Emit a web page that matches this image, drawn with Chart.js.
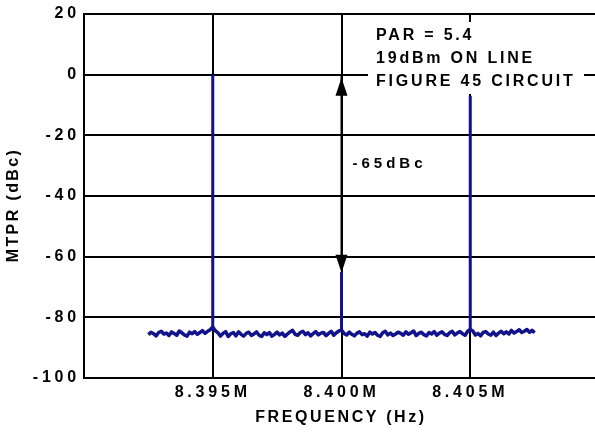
<!DOCTYPE html>
<html>
<head>
<meta charset="utf-8">
<script src="https://cdn.jsdelivr.net/npm/chart.js@4.4.0/dist/chart.umd.min.js"></script>
<style>
  html, body { margin: 0; padding: 0; background: #fff; overflow: hidden; }
  #wrap { width: 604px; height: 432px; }
</style>
</head>
<body>
<div id="wrap"><canvas id="mtpr" width="604" height="432"></canvas></div>
<script>
// frequency axis (Hz)
var freqMin = 8390000;
var freqMax = 8410000;
var freqStep = 5000;
var levelTicks = [20, 0, -20, -40, -60, -80, -100];

// noise floor trace, one sample every 100 Hz starting at 8.3925M
var noiseStart = 8392500;
var noiseStep = 100;
var noiseLevels = [
  -85.7,-84.9,-85.4,-86.1,-85.0,-84.6,-85.5,-85.2,-86.0,-84.8,-85.3,-85.9,-84.5,-85.1,-85.8,-86.2,-84.9,-85.4,-84.7,-85.6,
  -85.0,-84.4,-85.3,-84.6,-84.1,-83.2,-84.4,-85.1,-86.2,-85.3,-84.7,-86.3,-85.4,-85.0,-86.1,-84.8,-85.6,-86.2,-85.3,-84.9,
  -86.0,-85.5,-84.8,-85.9,-86.3,-85.1,-85.7,-85.0,-86.2,-85.6,-84.9,-85.8,-85.2,-86.3,-85.5,-84.8,-84.3,-85.6,-85.9,-85.0,
  -84.6,-85.7,-85.1,-86.1,-85.4,-84.7,-85.8,-85.2,-85.0,-86.0,-85.3,-84.6,-85.9,-85.1,-84.5,-84.2,-85.3,-85.8,-84.9,-85.6,
  -86.1,-85.2,-84.8,-85.7,-85.4,-86.2,-84.9,-85.5,-85.0,-85.9,-86.3,-85.1,-84.6,-85.8,-85.2,-86.0,-85.5,-84.9,-85.3,-85.9,
  -84.8,-85.6,-85.1,-84.5,-86.0,-85.3,-84.9,-85.7,-86.1,-85.0,-85.5,-84.7,-85.9,-85.2,-84.8,-85.6,-86.0,-85.1,-84.6,-85.8,
  -85.2,-84.7,-85.4,-85.9,-84.6,-84.0,-84.5,-85.8,-85.3,-86.1,-85.0,-84.7,-85.5,-85.9,-84.9,-86.0,-85.2,-84.6,-85.4,-84.8,
  -85.5,-84.3,-85.2,-84.7,-84.1,-85.0,-84.6,-84.0,-84.9,-84.3,-85.1
];

// carrier tones
var toneFreqs = [8395000, 8400000, 8405000];
var toneLevels = [0, -65, -7];
var toneBase = -84;

// annotation
var arrowFreq = 8400000;
var arrowTop = 0;
var arrowBottom = -65;
var arrowLabel = '-65dBc';
var noteLines = ['PAR = 5.4', '19dBm ON LINE', 'FIGURE 45 CIRCUIT'];

var traceColor = '#12128a';
var fontFamily = '"Liberation Sans", Arial, sans-serif';

var noiseData = noiseLevels.map(function (v, i) {
  return { x: noiseStart + i * noiseStep, y: v };
});

var datasets = [{
  label: 'noise',
  data: noiseData,
  borderColor: traceColor,
  borderWidth: 3.5,
  pointRadius: 0,
  borderJoinStyle: 'round'
}];
toneFreqs.forEach(function (f, i) {
  datasets.push({
    label: 'tone' + i,
    data: [{ x: f, y: toneBase }, { x: f, y: toneLevels[i] }],
    borderColor: traceColor,
    borderWidth: 3,
    pointRadius: 0
  });
});

function spaced(ctx, px) { ctx.letterSpacing = px + 'px'; }

var annotations = {
  id: 'annotations',
  beforeUpdate: function (chart) { spaced(chart.ctx, 3.8); },
  beforeDraw: function (chart) { spaced(chart.ctx, 3.8); },
  afterDatasetsDraw: function (chart) {
    var ctx = chart.ctx;
    var xs = chart.scales.x, ys = chart.scales.y;
    ctx.save();

    // note box
    ctx.fillStyle = '#fff';
    ctx.fillRect(368, 22, 216, 72);
    ctx.fillStyle = '#000';
    ctx.font = 'bold 16px ' + fontFamily;
    spaced(ctx, 2.8);
    ctx.textAlign = 'left';
    ctx.textBaseline = 'alphabetic';
    noteLines.forEach(function (t, i) {
      ctx.fillText(t, 376, 40 + i * 23);
    });

    // double arrow
    var ax = xs.getPixelForValue(arrowFreq);
    var y0 = ys.getPixelForValue(arrowTop);
    var y1 = ys.getPixelForValue(arrowBottom);
    ctx.strokeStyle = '#000';
    ctx.lineWidth = 2;
    ctx.beginPath();
    ctx.moveTo(ax, y0);
    ctx.lineTo(ax, y1 - 10);
    ctx.stroke();
    ctx.beginPath();
    ctx.moveTo(ax, y0 + 3);
    ctx.lineTo(ax - 6, y0 + 21);
    ctx.lineTo(ax + 6, y0 + 21);
    ctx.closePath();
    ctx.fill();
    ctx.beginPath();
    ctx.moveTo(ax, y1 + 1);
    ctx.lineTo(ax - 6, y1 - 17);
    ctx.lineTo(ax + 6, y1 - 17);
    ctx.closePath();
    ctx.fill();

    ctx.font = 'bold 15px ' + fontFamily;
    spaced(ctx, 4);
    ctx.textBaseline = 'middle';
    ctx.fillText(arrowLabel, ax + 11, ys.getPixelForValue(-29.5));

    // axis titles
    ctx.font = 'bold 16px ' + fontFamily;
    ctx.textAlign = 'center';
    spaced(ctx, 2.6);
    ctx.fillText('FREQUENCY (Hz)', 341, 418);
    ctx.translate(14, 205);
    ctx.rotate(-Math.PI / 2);
    spaced(ctx, 2.4);
    ctx.fillText('MTPR (dBc)', 0, 0);
    ctx.restore();
    spaced(ctx, 3.8);
  }
};

new Chart(document.getElementById('mtpr'), {
  type: 'line',
  data: { datasets: datasets },
  plugins: [annotations],
  options: {
    responsive: false,
    animation: false,
    events: [],
    layout: { padding: { top: 14, right: 1, bottom: 0, left: 0 } },
    plugins: { legend: { display: false }, tooltip: { enabled: false } },
    scales: {
      x: {
        type: 'linear',
        min: freqMin,
        max: freqMax,
        afterFit: function (s) { s.height = 54; },
        grid: { color: '#000', lineWidth: 2, drawTicks: false },
        border: { color: '#000', width: 2 },
        ticks: {
          stepSize: freqStep,
          padding: 5,
          maxRotation: 0,
          color: '#000',
          font: { family: fontFamily, size: 16, weight: 'bold' },
          callback: function (v) {
            if (v === freqMin || v === freqMax) return '';
            return (v / 1e6).toFixed(3) + 'M';
          }
        }
      },
      y: {
        min: levelTicks[levelTicks.length - 1],
        max: levelTicks[0],
        afterFit: function (s) { s.width = 84; },
        grid: { color: '#000', lineWidth: 2, drawTicks: false },
        border: { color: '#000', width: 2 },
        ticks: {
          stepSize: 20,
          padding: 4,
          color: '#000',
          font: { family: fontFamily, size: 16, weight: 'bold' }
        }
      }
    }
  }
});
</script>
</body>
</html>
